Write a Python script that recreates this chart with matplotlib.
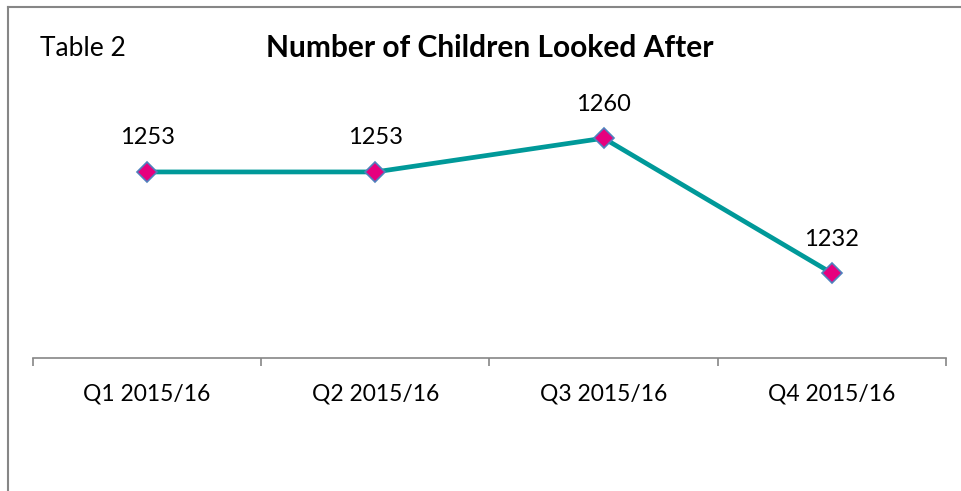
import matplotlib
matplotlib.use("Agg")
import matplotlib.pyplot as plt
from matplotlib.lines import Line2D

categories = ["Q1 2015/16", "Q2 2015/16", "Q3 2015/16", "Q4 2015/16"]
values = [1253, 1253, 1260, 1232]
title = "Number of Children Looked After"
table_label = "Table 2"

plt.rcParams['font.family'] = ['Lato', 'DejaVu Sans']

W, H = 962, 491
fig = plt.figure(figsize=(W / 100, H / 100), dpi=100)

# plot area: x from 33 to 946 px, bottom axis at y=358 px
left, right = 33 / W, 946 / W
bottom = 1 - 358 / H
top = 1 - 90 / H
ax = fig.add_axes([left, bottom, right - left, top - bottom])

x = list(range(len(values)))
ax.plot(x, values, color="#009999", linewidth=3.4, zorder=2,
        marker="D", markersize=10, markerfacecolor="#E6007E",
        markeredgecolor="#4F81BD", markeredgewidth=1.2)
ax.set_xlim(-0.5, len(values) - 0.5)
ax.set_ylim(1214.4, 1270)

for xi, v in zip(x, values):
    ax.annotate(str(v), (xi, v), xytext=(0, 17), textcoords="offset points",
                ha="center", va="bottom", fontsize=17, color="#000000")

for s in ["top", "right", "left"]:
    ax.spines[s].set_visible(False)
ax.spines["bottom"].set_color("#868686")
ax.spines["bottom"].set_linewidth(1.2)
ax.set_yticks([])
ax.set_xticks([i - 0.5 for i in range(len(values) + 1)], minor=False)
ax.set_xticklabels([])
ax.tick_params(axis="x", which="major", length=6, width=1.2, color="#868686", direction="out")
ax.set_xticks(x, minor=True)
ax.set_xticklabels(categories, minor=True, fontsize=16.5)
ax.tick_params(axis="x", which="minor", length=0, pad=18)

fig.text(490 / W, 1 - 48 / H, title, ha="center", va="center",
         fontsize=21.5, fontweight="bold")
fig.text(40 / W, 1 - 48 / H, table_label, ha="left", va="center", fontsize=19)

# outer frame (left and top edges visible)
fig.add_artist(Line2D([8 / W, 8 / W], [0, 1 - 7 / H], color="#868686", linewidth=1.5,
                      transform=fig.transFigure))
fig.add_artist(Line2D([8 / W, 1], [1 - 7 / H, 1 - 7 / H], color="#868686", linewidth=1.5,
                      transform=fig.transFigure))

fig.savefig("out.png", dpi=100)
